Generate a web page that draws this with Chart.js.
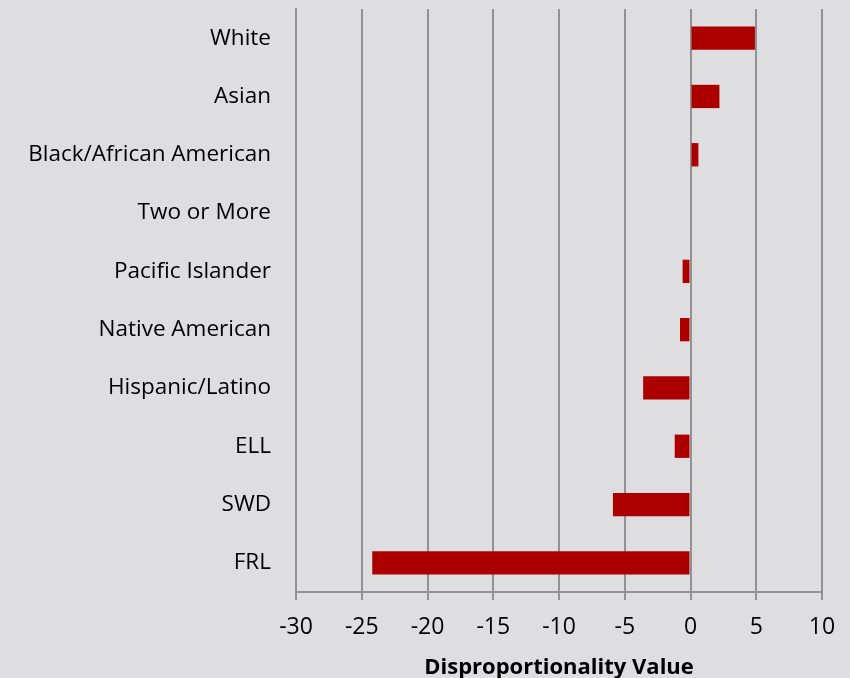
<!DOCTYPE html>
<html>
<head>
<meta charset="utf-8">
<script src="https://cdn.jsdelivr.net/npm/chart.js@4.4.1/dist/chart.umd.min.js"></script>
<style>
  html, body { margin: 0; padding: 0; background: #dedee0; }
  canvas { display: block; }
</style>
</head>
<body>
<canvas id="chart" width="850" height="678"></canvas>
<script>
// Student groups, top to bottom
const categories = [
  'White', 'Asian', 'Black/African American', 'Two or More', 'Pacific Islander',
  'Native American', 'Hispanic/Latino', 'ELL', 'SWD', 'FRL'
];
// Disproportionality value per group
const disproportionality = [4.9, 2.2, 0.6, 0, -0.6, -0.8, -3.6, -1.2, -5.9, -24.2];
// Horizontal axis ticks
const xTicks = [-30, -25, -20, -15, -10, -5, 0, 5, 10];
const axisTitle = 'Disproportionality Value';

const FONT = '"Open Sans", "DejaVu Sans", sans-serif';
const GRID = '#929292';

new Chart(document.getElementById('chart'), {
  type: 'bar',
  data: {
    labels: categories,
    datasets: [{
      data: disproportionality,
      backgroundColor: '#ac0000',
      borderWidth: 0,
      barPercentage: 0.4,
      categoryPercentage: 1.0
    }]
  },
  options: {
    indexAxis: 'y',
    responsive: false,
    animation: false,
    devicePixelRatio: 1,
    layout: { padding: { top: 9, right: 28, left: 0, bottom: 0 } },
    plugins: {
      legend: { display: false },
      tooltip: { enabled: false }
    },
    scales: {
      x: {
        min: -30,
        max: 10,
        afterBuildTicks(scale) { scale.ticks = xTicks.map(v => ({ value: v })); },
        afterFit(scale) {
          scale.height = 86;
          scale.paddingLeft = 0;
          scale.paddingRight = 0;
        },
        grid: {
          color: GRID,
          lineWidth: 2,
          drawTicks: true,
          tickLength: 8,
          tickColor: GRID
        },
        border: { color: GRID, width: 2 },
        ticks: {
          color: '#000',
          font: { family: FONT, size: 23 },
          padding: 14,
          maxRotation: 0
        },
        title: {
          display: true,
          text: axisTitle,
          color: '#000',
          font: { family: FONT, size: 22, weight: 'bold' },
          padding: { top: 0, bottom: -3 }
        }
      },
      y: {
        afterFit(scale) {
          scale.width = 296;
          scale.paddingTop = 0;
          scale.paddingBottom = 0;
        },
        grid: { display: false, drawTicks: false },
        border: { display: true, color: GRID, width: 2 },
        ticks: {
          color: '#000',
          font: { family: FONT, size: 22.5 },
          padding: 25,
          autoSkip: false
        }
      }
    }
  }
});
</script>
</body>
</html>
